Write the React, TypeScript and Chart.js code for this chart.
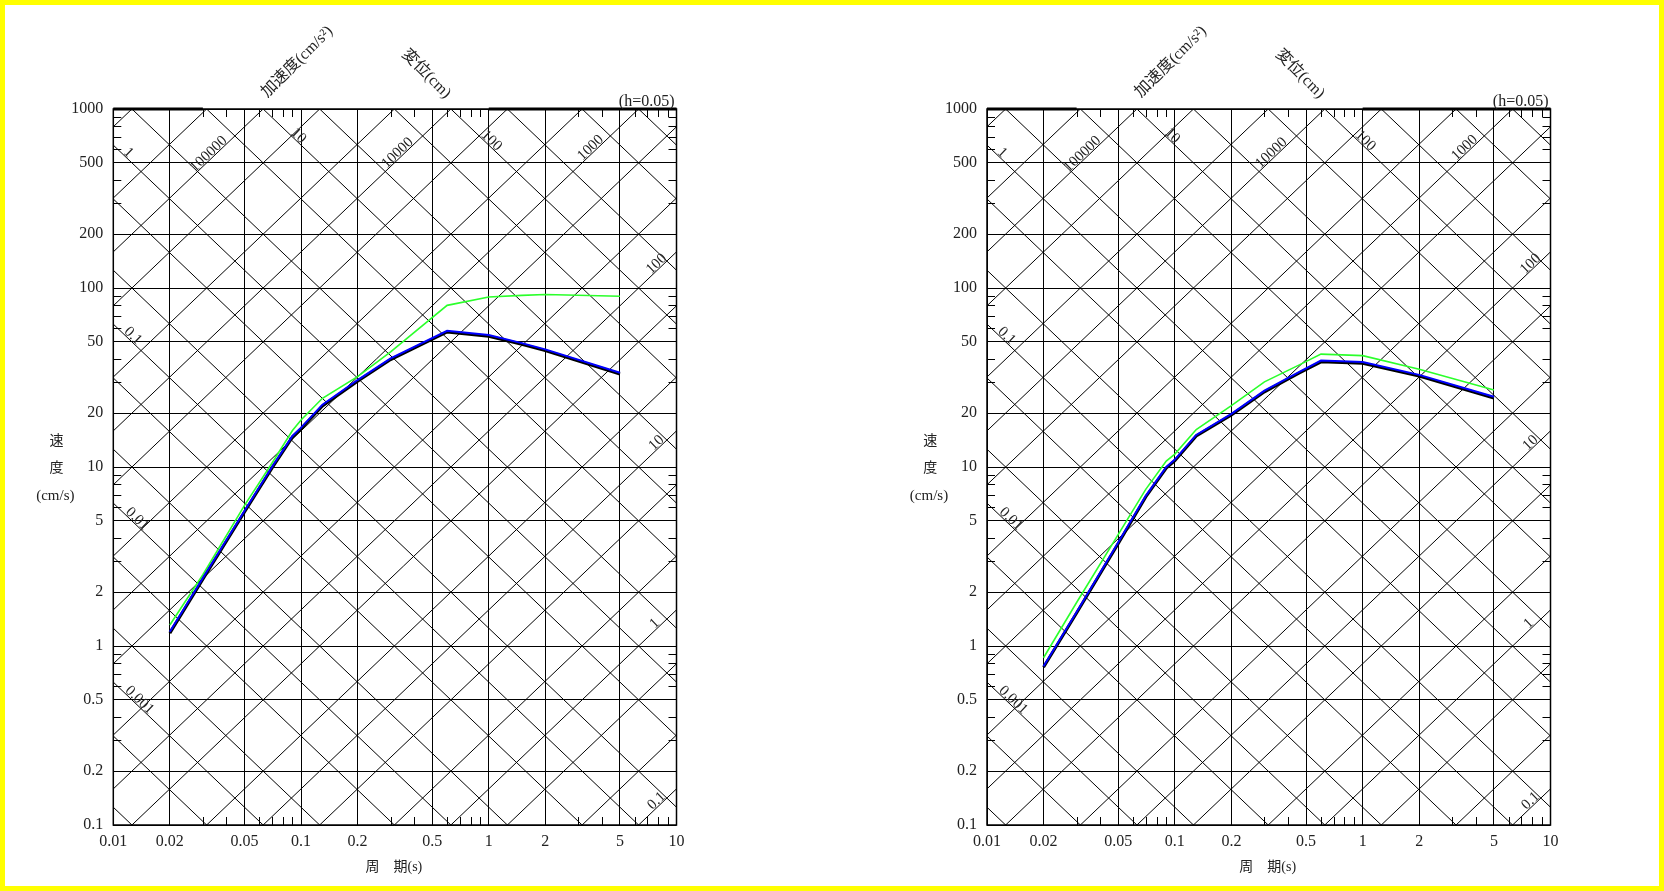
import React, { useEffect, useRef } from 'react';
import { Chart, registerables } from 'chart.js';
Chart.register(...registerables);

// ---- axis ticks ----
const X_TICKS = [0.01, 0.02, 0.05, 0.1, 0.2, 0.5, 1, 2, 5, 10];
const Y_TICKS = [0.1, 0.2, 0.5, 1, 2, 5, 10, 20, 50, 100, 200, 500, 1000];
const MINOR_MULTS = [3, 4, 6, 7, 8, 9];
const X_DECADES = [0.01, 0.1, 1];
const Y_DECADES = [0.1, 1, 10, 100];

// ---- tripartite diagonal lines ----
const DISP_LINES = [0.0002, 0.0005, 0.001, 0.002, 0.005, 0.01, 0.02, 0.05, 0.1, 0.2, 0.5, 1, 2, 5, 10, 20, 50, 100, 200, 500, 1000];
const ACC_LINES = [0.1, 0.2, 0.5, 1, 2, 5, 10, 20, 50, 100, 200, 500, 1000, 2000, 5000, 10000, 20000, 50000, 100000, 200000, 500000];
// labels: value and the period at which the label sits on its line
const DISP_LABEL_VALUES = [1, 0.1, 0.01, 0.001, 10, 100];
const DISP_LABEL_PERIODS = [0.01154, 0.0122, 0.01285, 0.0132, 0.0929, 0.99];
const ACC_LABEL_VALUES = [100000, 10000, 1000, 100, 10, 1, 0.1];
const ACC_LABEL_PERIODS = [0.0336, 0.341, 3.64, 8.17, 8.17, 8.0, 8.17];

// ---- left panel spectra ----
const PERIODS_L = [0.02, 0.03, 0.05, 0.07, 0.09, 0.1, 0.13, 0.2, 0.3, 0.6, 1.0, 1.5, 2.0, 5.0];
const GREEN_L = [1.31, 2.5, 6.1, 10.5, 16.0, 18.3, 24.2, 32, 44, 80, 89, 91, 92, 90];
const BLUE_L = [1.2, 2.4, 5.7, 10.0, 14.9, 16.6, 22.3, 30.6, 40.4, 57.7, 54.6, 49.2, 45.4, 33.6];
const BLACK_L = [1.18, 2.36, 5.6, 9.85, 14.7, 16.35, 21.9, 30.1, 39.8, 56.8, 53.8, 48.5, 44.7, 33.1];

// ---- right panel spectra ----
const PERIODS_R = [0.02, 0.03, 0.05, 0.07, 0.09, 0.1, 0.13, 0.2, 0.3, 0.46, 0.6, 1.0, 2.0, 5.0];
const GREEN_R = [0.86, 1.75, 4.2, 7.5, 10.8, 11.8, 16.2, 22, 29.9, 37.2, 42.7, 41.9, 35.2, 26.9];
const BLUE_R = [0.77, 1.55, 3.8, 6.9, 10.0, 11.0, 15.1, 19.8, 26.7, 34, 39.3, 38.6, 32.7, 24.7];
const BLACK_R = [0.76, 1.53, 3.74, 6.8, 9.85, 10.85, 14.9, 19.5, 26.3, 33.5, 38.7, 38.0, 32.2, 24.3];

const SERIF = "'Liberation Serif', 'Noto Sans CJK JP', serif";
const TWO_PI = 2 * Math.PI;

const tripartite = {
  id: 'tripartite',
  beforeDatasetsDraw(chart: any) {
    const { ctx, chartArea: ca, scales } = chart;
    const x = scales.x, y = scales.y;
    const T0 = 0.01, T1 = 10;
    ctx.save();
    ctx.beginPath();
    ctx.rect(ca.left, ca.top, ca.right - ca.left, ca.bottom - ca.top);
    ctx.clip();
    ctx.strokeStyle = '#000';
    ctx.lineWidth = 1;
    ctx.beginPath();
    DISP_LINES.forEach((d) => {
      ctx.moveTo(x.getPixelForValue(T0), y.getPixelForValue((TWO_PI * d) / T0));
      ctx.lineTo(x.getPixelForValue(T1), y.getPixelForValue((TWO_PI * d) / T1));
    });
    ACC_LINES.forEach((a) => {
      ctx.moveTo(x.getPixelForValue(T0), y.getPixelForValue((a * T0) / TWO_PI));
      ctx.lineTo(x.getPixelForValue(T1), y.getPixelForValue((a * T1) / TWO_PI));
    });
    ctx.stroke();
    ctx.restore();

    // minor ticks inside the frame
    ctx.save();
    ctx.strokeStyle = '#000';
    ctx.lineWidth = 1;
    const L = 8;
    ctx.beginPath();
    X_DECADES.forEach((dec) => MINOR_MULTS.forEach((m) => {
      const px = Math.round(x.getPixelForValue(dec * m)) + 0.5;
      ctx.moveTo(px, ca.bottom); ctx.lineTo(px, ca.bottom - L);
      ctx.moveTo(px, ca.top); ctx.lineTo(px, ca.top + L);
    }));
    Y_DECADES.forEach((dec) => MINOR_MULTS.forEach((m) => {
      const py = Math.round(y.getPixelForValue(dec * m)) + 0.5;
      ctx.moveTo(ca.left, py); ctx.lineTo(ca.left + L, py);
      ctx.moveTo(ca.right, py); ctx.lineTo(ca.right - L, py);
    }));
    ctx.stroke();
    // frame
    ctx.lineWidth = 1.5;
    ctx.strokeRect(ca.left, ca.top, ca.right - ca.left, ca.bottom - ca.top);
    ctx.lineWidth = 3;
    ctx.beginPath();
    ctx.moveTo(x.getPixelForValue(0.01), ca.top); ctx.lineTo(x.getPixelForValue(0.03), ca.top);
    ctx.moveTo(x.getPixelForValue(1), ca.top); ctx.lineTo(x.getPixelForValue(10), ca.top);
    ctx.stroke();
    ctx.restore();
  },
  afterDraw(chart: any) {
    const { ctx, chartArea: ca, scales } = chart;
    const x = scales.x, y = scales.y;
    const dx = x.getPixelForValue(10) - x.getPixelForValue(1);
    const dy = y.getPixelForValue(1) - y.getPixelForValue(10);
    ctx.save();
    ctx.fillStyle = '#222';
    ctx.font = `15px ${SERIF}`;
    ctx.textAlign = 'center';
    ctx.textBaseline = 'middle';
    const put = (t: number, v: number, ang: number, text: string) => {
      ctx.save();
      ctx.translate(x.getPixelForValue(t), y.getPixelForValue(v));
      ctx.rotate(ang);
      ctx.fillText(text, 0, -5);
      ctx.restore();
    };
    DISP_LABEL_VALUES.forEach((d, i) => {
      const t = DISP_LABEL_PERIODS[i];
      put(t, (TWO_PI * d) / t, Math.atan2(dy, dx), String(d));
    });
    ACC_LABEL_VALUES.forEach((a, i) => {
      const t = ACC_LABEL_PERIODS[i];
      put(t, (a * t) / TWO_PI, Math.atan2(-dy, dx), String(a));
    });

    // titles
    ctx.fillStyle = '#222';
    ctx.font = `16px ${SERIF}`;
    ctx.textAlign = 'right';
    ctx.fillText('(h=0.05)', ca.right - 2, ca.top - 7.5);

    ctx.textAlign = 'center';
    ctx.save();
    ctx.translate(ca.left + 184, ca.top - 47);
    ctx.rotate(-Math.PI / 4);
    ctx.fillText('加速度(cm/s²)', 0, 0);
    ctx.restore();
    ctx.save();
    ctx.translate(ca.left + 313, ca.top - 35);
    ctx.rotate(Math.PI / 4);
    ctx.fillText('変位(cm)', 0, 0);
    ctx.restore();

    ctx.font = `14px ${SERIF}`;
    ctx.fillText('速', ca.left - 56.7, ca.top + 332);
    ctx.fillText('度', ca.left - 56.7, ca.top + 359);
    ctx.font = `15px ${SERIF}`;
    ctx.fillText('(cm/s)', ca.left - 58, ca.top + 387);
    ctx.font = `14px ${SERIF}`;
    ctx.fillText('周　期(s)', (ca.left + ca.right) / 2 - 1, ca.bottom + 42);
    ctx.restore();
  },
};

function makeConfig(periods: number[], green: number[], blue: number[], black: number[], padding: any): any {
  const pts = (vals: number[]) => periods.map((t, i) => ({ x: t, y: vals[i] }));
  const tickFont = { family: SERIF, size: 16 };
  return {
    type: 'line',
    data: {
      datasets: [
        { data: pts(green), borderColor: '#2bff2b', borderWidth: 1.6, pointRadius: 0, tension: 0, order: 3 },
        { data: pts(black), borderColor: '#000000', borderWidth: 3, pointRadius: 0, tension: 0, order: 2 },
        { data: pts(blue), borderColor: '#0000ff', borderWidth: 2, pointRadius: 0, tension: 0, order: 1 },
      ],
    },
    options: {
      responsive: false,
      maintainAspectRatio: false,
      animation: false,
      devicePixelRatio: 1,
      layout: { padding },
      plugins: { legend: { display: false }, tooltip: { enabled: false } },
      scales: {
        x: {
          type: 'logarithmic',
          min: 0.01,
          max: 10,
          afterBuildTicks: (s: any) => { s.ticks = X_TICKS.map((v) => ({ value: v })); },
          afterFit: (s: any) => { s.height = 50; },
          grid: { color: '#000', lineWidth: 1, drawTicks: false },
          border: { display: false },
          ticks: { autoSkip: false, maxRotation: 0, minRotation: 0, padding: 7, color: '#222', font: tickFont, callback: (v: any) => String(v) },
        },
        y: {
          type: 'logarithmic',
          min: 0.1,
          max: 1000,
          afterBuildTicks: (s: any) => { s.ticks = Y_TICKS.map((v) => ({ value: v })); },
          afterFit: (s: any) => { s.width = 100; },
          grid: { color: '#000', lineWidth: 1, drawTicks: false },
          border: { display: false },
          ticks: { autoSkip: false, padding: 10, color: '#222', font: tickFont, callback: (v: any) => String(v) },
        },
      },
    },
    plugins: [tripartite],
  };
}

function Panel(props: { left: number; periods: number[]; green: number[]; blue: number[]; black: number[]; padding: any }) {
  const ref = useRef<HTMLCanvasElement>(null);
  useEffect(() => {
    if (!ref.current) return;
    const chart = new Chart(ref.current, makeConfig(props.periods, props.green, props.blue, props.black, props.padding));
    return () => chart.destroy();
  }, []);
  return (
    <canvas
      ref={ref}
      width={832}
      height={891}
      style={{ position: 'absolute', left: props.left, top: 0, width: 832, height: 891, display: 'block' }}
    />
  );
}

export default function App() {
  return (
    <div style={{ position: 'fixed', left: 0, top: 0, width: 1664, height: 891, background: '#fff', overflow: 'hidden' }}>
      <Panel left={0} periods={PERIODS_L} green={GREEN_L} blue={BLUE_L} black={BLACK_L}
        padding={{ left: 13.3, right: 155.5, top: 109, bottom: 16 }} />
      <Panel left={832} periods={PERIODS_R} green={GREEN_R} blue={BLUE_R} black={BLACK_R}
        padding={{ left: 55, right: 113.5, top: 109, bottom: 16 }} />
      <div style={{ position: 'absolute', inset: 0, border: '5px solid #ffff00', boxSizing: 'border-box', pointerEvents: 'none' }} />
    </div>
  );
}
